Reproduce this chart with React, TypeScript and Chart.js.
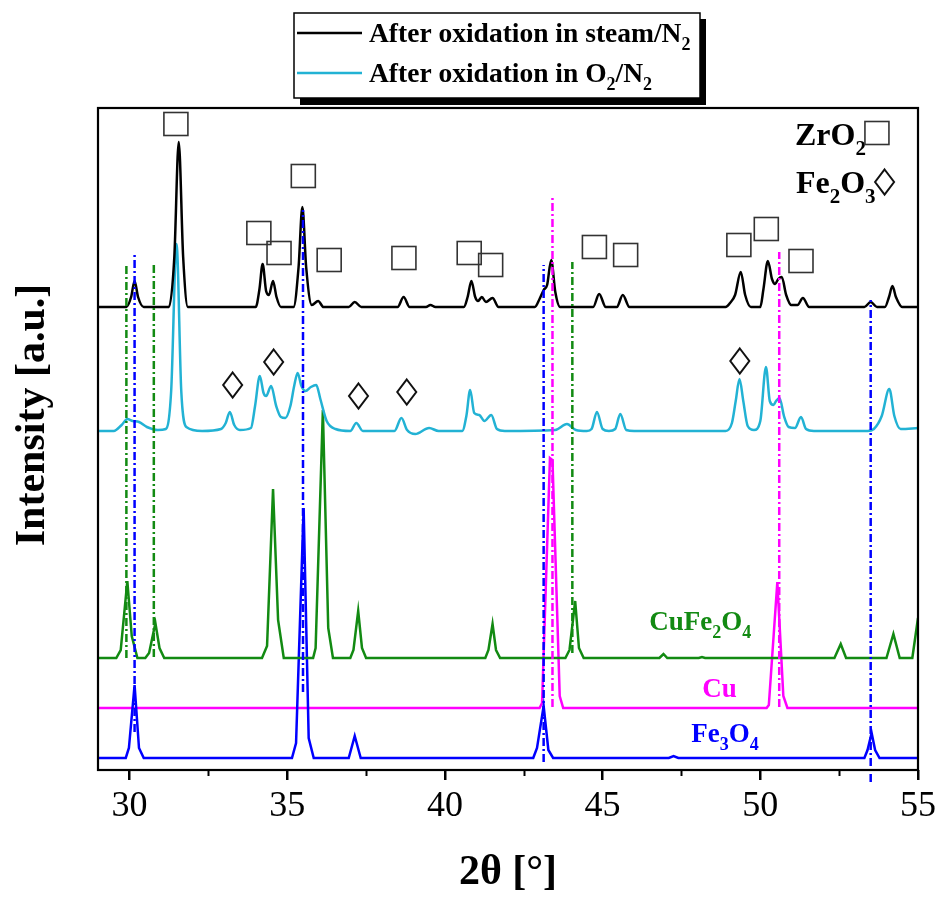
import React, { useEffect, useRef } from 'react';
import { Chart, registerables } from 'chart.js';

Chart.register(...registerables);

// ---------- axes ----------
const X_MIN = 29;
const X_MAX = 55;
const Y_MIN = 0;
const Y_MAX = 662;
const MAJOR_TICKS = [30, 35, 40, 45, 50, 55];
const MINOR_TICKS = [32.5, 37.5, 42.5, 47.5, 52.5];
const X_TITLE = '2θ [°]';
const Y_TITLE = 'Intensity [a.u.]';

// ---------- colours ----------
const BLACK = '#000000';
const CYAN = '#22b2d4';
const GREEN = '#128a12';
const MAGENTA = '#ff00ff';
const BLUE = '#0000ff';

// ---------- stacking offsets (a.u.) ----------
const OFFSET_STEAM = 463;
const OFFSET_O2 = 339;
const OFFSET_CUFE = 112;
const OFFSET_CU = 62;
const OFFSET_FE = 12;

// ---------- series: [2θ, intensity above own baseline] ----------
const steamN2: [number, number][] = [
  [29.0, 0], [29.9, 0], [30.05, 10], [30.16, 26], [30.27, 10], [30.45, 0],
  [31.25, 0], [31.42, 50], [31.56, 165], [31.7, 50], [31.85, 0],
  [34.0, 0], [34.12, 18], [34.22, 43], [34.33, 16], [34.42, 12], [34.55, 26], [34.66, 10], [34.8, 0],
  [35.2, 0], [35.36, 40], [35.48, 100], [35.6, 40], [35.78, 2], [35.98, 6], [36.15, 0],
  [36.95, 0], [37.14, 5], [37.35, 0],
  [38.5, 0], [38.69, 10], [38.88, 0],
  [39.4, 0], [39.54, 2], [39.7, 0],
  [40.6, 0], [40.72, 10], [40.84, 26], [40.96, 10], [41.05, 6], [41.17, 10], [41.3, 5], [41.51, 9], [41.7, 0],
  [42.85, 0], [43.0, 8], [43.13, 17], [43.24, 22], [43.37, 47], [43.5, 15], [43.65, 0],
  [44.7, 0], [44.89, 13], [45.1, 0],
  [45.45, 0], [45.64, 12], [45.85, 0],
  [48.9, 0], [49.04, 4], [49.2, 12], [49.38, 35], [49.52, 12], [49.7, 0],
  [50.0, 0], [50.1, 18], [50.24, 46], [50.37, 28], [50.47, 23], [50.57, 28], [50.68, 30], [50.82, 12], [50.98, 2],
  [51.18, 2], [51.35, 9], [51.55, 0],
  [53.3, 0], [53.5, 5], [53.7, 0],
  [53.95, 0], [54.08, 10], [54.19, 21], [54.3, 10], [54.5, 0],
  [55.0, 0],
];

const o2N2: [number, number][] = [
  [29.0, 0], [29.5, 0], [29.75, 6], [29.93, 12], [30.1, 10], [30.3, 9], [30.55, 4], [30.9, 1], [31.15, 2],
  [31.32, 40], [31.49, 187], [31.64, 40], [31.8, 4], [32.3, 0],
  [32.9, 2], [33.05, 8], [33.18, 19], [33.32, 6], [33.5, 1],
  [33.85, 3], [33.98, 25], [34.13, 55], [34.25, 38], [34.33, 35], [34.49, 45], [34.65, 25], [34.8, 14],
  [34.94, 13], [35.1, 25], [35.22, 45], [35.33, 58], [35.45, 45], [35.58, 40], [35.75, 44], [35.92, 46],
  [36.05, 32], [36.25, 10], [36.53, 2],
  [37.0, 0], [37.19, 8], [37.4, 0],
  [38.4, 0], [38.62, 13], [38.8, 1],
  [39.06, -3], [39.5, 3], [39.8, 0],
  [40.55, 0], [40.68, 15], [40.8, 41], [40.93, 18], [41.09, 16], [41.25, 10], [41.47, 16], [41.65, 2], [41.9, 0],
  [43.5, 1], [43.87, 7], [44.15, 1], [44.5, 0],
  [44.65, 2], [44.82, 19], [45.0, 2], [45.2, 0],
  [45.4, 2], [45.56, 17], [45.75, 1], [46.0, 0],
  [48.9, 0], [49.1, 8], [49.22, 30], [49.34, 52], [49.46, 30], [49.6, 5], [49.8, 1],
  [50.0, 10], [50.18, 64], [50.3, 30], [50.42, 26], [50.5, 30], [50.61, 33], [50.75, 15], [50.9, 4],
  [51.1, 3], [51.29, 14], [51.45, 2], [51.7, 0],
  [53.4, 0], [53.6, 2], [53.85, 15], [54.09, 42], [54.25, 15], [54.45, 2], [55.0, 3],
];

const cuFe2O4: [number, number][] = [
  [29.0, 0], [29.58, 0], [29.72, 8], [29.93, 77], [30.07, 22], [30.25, 0],
  [30.5, 0], [30.62, 5], [30.82, 35], [30.95, 10], [31.1, 0],
  [34.2, 0], [34.36, 12], [34.55, 169], [34.71, 38], [34.89, 0],
  [35.82, 0], [35.9, 10], [36.13, 248], [36.3, 30], [36.45, 0],
  [37.0, 0], [37.1, 8], [37.25, 47], [37.37, 10], [37.5, 0],
  [41.28, 0], [41.38, 8], [41.51, 34], [41.62, 8], [41.75, 0],
  [43.82, 0], [43.95, 8], [44.13, 57], [44.25, 10], [44.4, 0],
  [46.8, 0], [46.93, 4], [47.05, 0],
  [48.05, 0], [48.15, 1], [48.25, 0],
  [52.35, 0], [52.55, 14], [52.72, 0],
  [54.0, 0], [54.22, 24], [54.42, 0],
  [54.82, 0], [55.0, 40],
];

const cu: [number, number][] = [
  [29.0, 0], [43.0, 0], [43.08, 5], [43.33, 250], [43.41, 248], [43.64, 12], [43.75, 0],
  [50.2, 0], [50.27, 3], [50.54, 126], [50.73, 12], [50.86, 0], [55.0, 0],
];

const fe3O4: [number, number][] = [
  [29.0, 0], [29.88, 0], [29.98, 10], [30.16, 73], [30.3, 10], [30.45, 0],
  [35.15, 0], [35.28, 15], [35.52, 250], [35.68, 20], [35.84, 0],
  [36.95, 0], [37.14, 22], [37.33, 0],
  [42.8, 0], [42.92, 10], [43.13, 52], [43.28, 8], [43.43, 0],
  [47.1, 0], [47.25, 2], [47.4, 0],
  [53.3, 0], [53.4, 8], [53.53, 25], [53.64, 8], [53.78, 0],
  [55.0, 0],
];

// ---------- phase markers: [2θ, a.u.] ----------
const zrO2Squares: [number, number][] = [
  [31.47, 646], [35.51, 594], [34.10, 537], [34.74, 517], [36.33, 510], [38.70, 512],
  [40.77, 517], [41.45, 505], [44.74, 523], [45.73, 515], [49.32, 525], [50.19, 541], [51.29, 509],
];
const fe2O3Diamonds: [number, number][] = [
  [33.27, 385], [34.57, 408], [37.26, 374], [38.79, 378], [49.35, 409],
];

// ---------- reference lines: 2θ, from, to ----------
const greenRefLines: [number, number, number][] = [[29.9, 112, 505], [30.77, 113, 507], [44.04, 117, 508]];
const blueRefLines: [number, number, number][] = [[30.16, 38, 518], [35.5, 78, 560], [43.13, 8, 505], [53.5, -12, 470]];
const magentaRefLines: [number, number, number][] = [[43.41, 63, 573], [50.6, 63, 518]];

// ---------- text labels ----------
type Part = { t: string; sub?: boolean };
const LEGEND_ITEMS: { color: string; parts: Part[] }[] = [
  { color: BLACK, parts: [{ t: 'After oxidation in steam/N' }, { t: '2', sub: true }] },
  { color: CYAN, parts: [{ t: 'After oxidation in O' }, { t: '2', sub: true }, { t: '/N' }, { t: '2', sub: true }] },
];
const PHASE_LABELS: { x: number; y: number; color: string; parts: Part[] }[] = [
  { x: 46.48, y: 140, color: GREEN, parts: [{ t: 'CuFe' }, { t: '2', sub: true }, { t: 'O' }, { t: '4', sub: true }] },
  { x: 48.16, y: 73, color: MAGENTA, parts: [{ t: 'Cu' }] },
  { x: 47.81, y: 28, color: BLUE, parts: [{ t: 'Fe' }, { t: '3', sub: true }, { t: 'O' }, { t: '4', sub: true }] },
];
const KEY_LABELS: { x: number; y: number; marker: 'square' | 'diamond'; parts: Part[] }[] = [
  { x: 51.10, y: 625, marker: 'square', parts: [{ t: 'ZrO' }, { t: '2', sub: true }] },
  { x: 51.13, y: 577, marker: 'diamond', parts: [{ t: 'Fe' }, { t: '2', sub: true }, { t: 'O' }, { t: '3', sub: true }] },
];

const SERIF = '"Liberation Serif", "Times New Roman", serif';

function drawParts(ctx: CanvasRenderingContext2D, parts: Part[], x: number, y: number, size: number, color: string) {
  ctx.fillStyle = color;
  ctx.textBaseline = 'alphabetic';
  ctx.textAlign = 'left';
  let cx = x;
  for (const p of parts) {
    if (p.sub) {
      ctx.font = `bold ${Math.round(size * 0.66)}px ${SERIF}`;
      ctx.fillText(p.t, cx, y + size * 0.3);
    } else {
      ctx.font = `bold ${size}px ${SERIF}`;
      ctx.fillText(p.t, cx, y);
    }
    cx += ctx.measureText(p.t).width;
  }
  return cx;
}

function drawSquare(ctx: CanvasRenderingContext2D, cx: number, cy: number) {
  ctx.save();
  ctx.strokeStyle = '#333333';
  ctx.lineWidth = 1.6;
  ctx.strokeRect(cx - 12, cy - 11.5, 24, 23);
  ctx.restore();
}
function drawDiamond(ctx: CanvasRenderingContext2D, cx: number, cy: number) {
  ctx.save();
  ctx.strokeStyle = '#111111';
  ctx.lineWidth = 2;
  ctx.beginPath();
  ctx.moveTo(cx, cy - 12.5);
  ctx.lineTo(cx + 9.5, cy);
  ctx.lineTo(cx, cy + 12.5);
  ctx.lineTo(cx - 9.5, cy);
  ctx.closePath();
  ctx.stroke();
  ctx.restore();
}

const decorPlugin = {
  id: 'decor',
  afterDraw(chart: any) {
    const ctx: CanvasRenderingContext2D = chart.ctx;
    const { left, right, top, bottom } = chart.chartArea;
    const xs = chart.scales.x;
    const ys = chart.scales.y;
    ctx.save();
    // frame
    ctx.strokeStyle = BLACK;
    ctx.lineWidth = 2.2;
    ctx.strokeRect(left, top, right - left, bottom - top);
    // minor ticks
    ctx.lineWidth = 2;
    for (const m of MINOR_TICKS) {
      const px = Math.round(xs.getPixelForValue(m)) + 0.5;
      ctx.beginPath();
      ctx.moveTo(px, bottom);
      ctx.lineTo(px, bottom + 6);
      ctx.stroke();
    }
    // axis titles
    ctx.fillStyle = BLACK;
    ctx.font = `bold 42px ${SERIF}`;
    ctx.textAlign = 'center';
    ctx.textBaseline = 'alphabetic';
    ctx.fillText(X_TITLE, (left + right) / 2, 884);
    ctx.save();
    ctx.translate(44, 415);
    ctx.rotate(-Math.PI / 2);
    ctx.font = `bold 42px ${SERIF}`;
    ctx.textAlign = 'center';
    ctx.fillText(Y_TITLE, 0, 0);
    ctx.restore();

    // markers
    for (const [x, y] of zrO2Squares) drawSquare(ctx, xs.getPixelForValue(x), ys.getPixelForValue(y));
    for (const [x, y] of fe2O3Diamonds) drawDiamond(ctx, xs.getPixelForValue(x), ys.getPixelForValue(y));

    // phase labels
    for (const l of PHASE_LABELS) drawParts(ctx, l.parts, xs.getPixelForValue(l.x), ys.getPixelForValue(l.y), 27, l.color);
    for (const k of KEY_LABELS) {
      const px = xs.getPixelForValue(k.x);
      const py = ys.getPixelForValue(k.y);
      const end = drawParts(ctx, k.parts, px, py, 32, BLACK);
      if (k.marker === 'square') drawSquare(ctx, end + 11, py - 12);
      else drawDiamond(ctx, end + 9, py - 11);
    }

    // legend box
    const bx = 294, by = 13, bw = 406, bh = 85;
    ctx.fillStyle = BLACK;
    ctx.fillRect(bx + 6, by + 6, bw, bh + 1);
    ctx.fillStyle = '#ffffff';
    ctx.fillRect(bx, by, bw, bh);
    ctx.strokeStyle = BLACK;
    ctx.lineWidth = 1.5;
    ctx.strokeRect(bx, by, bw, bh);
    LEGEND_ITEMS.forEach((it, i) => {
      const ly = 33 + i * 40;
      ctx.strokeStyle = it.color;
      ctx.lineWidth = 2.5;
      ctx.beginPath();
      ctx.moveTo(297, ly);
      ctx.lineTo(362, ly);
      ctx.stroke();
      drawParts(ctx, it.parts, 369, 42 + i * 40, 27.5, BLACK);
    });
    ctx.restore();
  },
};

function toPoints(arr: [number, number][], offset: number) {
  return arr.map(([x, h]) => ({ x, y: h + offset }));
}

export default function App() {
  const ref = useRef<HTMLCanvasElement | null>(null);
  useEffect(() => {
    if (!ref.current) return;
    const dash = [8, 3, 2, 3];
    const refSets: any[] = [];
    const addRefs = (lines: [number, number, number][], color: string) => {
      for (const [x, y0, y1] of lines) {
        refSets.push({
          data: [{ x, y: y0 }, { x, y: y1 }],
          borderColor: color,
          borderWidth: 2.5,
          borderDash: dash,
          pointRadius: 0,
          tension: 0,
          clip: false,
        });
      }
    };
    addRefs(blueRefLines, BLUE);
    addRefs(magentaRefLines, MAGENTA);
    addRefs(greenRefLines, GREEN);

    const trace = (label: string, arr: [number, number][], offset: number, color: string, smooth: boolean) => ({
      label,
      data: toPoints(arr, offset),
      borderColor: color,
      borderWidth: 2.5,
      pointRadius: 0,
      tension: 0,
      cubicInterpolationMode: smooth ? 'monotone' : 'default',
    });

    const chart = new Chart(ref.current, {
      type: 'line',
      data: {
        datasets: [
          ...refSets,
          trace('After oxidation in steam/N2', steamN2, OFFSET_STEAM, BLACK, true),
          trace('After oxidation in O2/N2', o2N2, OFFSET_O2, CYAN, true),
          trace('CuFe2O4', cuFe2O4, OFFSET_CUFE, GREEN, false),
          trace('Fe3O4', fe3O4, OFFSET_FE, BLUE, false),
          trace('Cu', cu, OFFSET_CU, MAGENTA, false),
        ],
      },
      options: {
        responsive: false,
        animation: false,
        devicePixelRatio: 1,
        layout: { padding: { top: 108, right: 22, left: 0, bottom: 0 } },
        plugins: { legend: { display: false }, tooltip: { enabled: false } },
        scales: {
          x: {
            type: 'linear',
            min: X_MIN,
            max: X_MAX,
            afterBuildTicks: (s: any) => {
              s.ticks = MAJOR_TICKS.map((v) => ({ value: v }));
            },
            afterFit: (s: any) => {
              s.height = 129;
            },
            ticks: {
              color: BLACK,
              font: { family: SERIF, size: 36 },
              padding: 5,
              maxRotation: 0,
              autoSkip: false,
            },
            grid: { display: true, drawOnChartArea: false, drawTicks: true, tickLength: 10, lineWidth: 2.5, color: BLACK },
            border: { display: false },
          },
          y: {
            type: 'linear',
            min: Y_MIN,
            max: Y_MAX,
            afterFit: (s: any) => {
              s.width = 98;
            },
            ticks: { display: false },
            grid: { display: false },
            border: { display: false },
          },
        },
      } as any,
      plugins: [decorPlugin],
    });
    return () => chart.destroy();
  }, []);
  return (
    <div style={{ position: 'fixed', left: 0, top: 0, width: 941, height: 899, background: '#ffffff' }}>
      <canvas ref={ref} width={941} height={899} style={{ display: 'block', width: 941, height: 899 }} />
    </div>
  );
}
